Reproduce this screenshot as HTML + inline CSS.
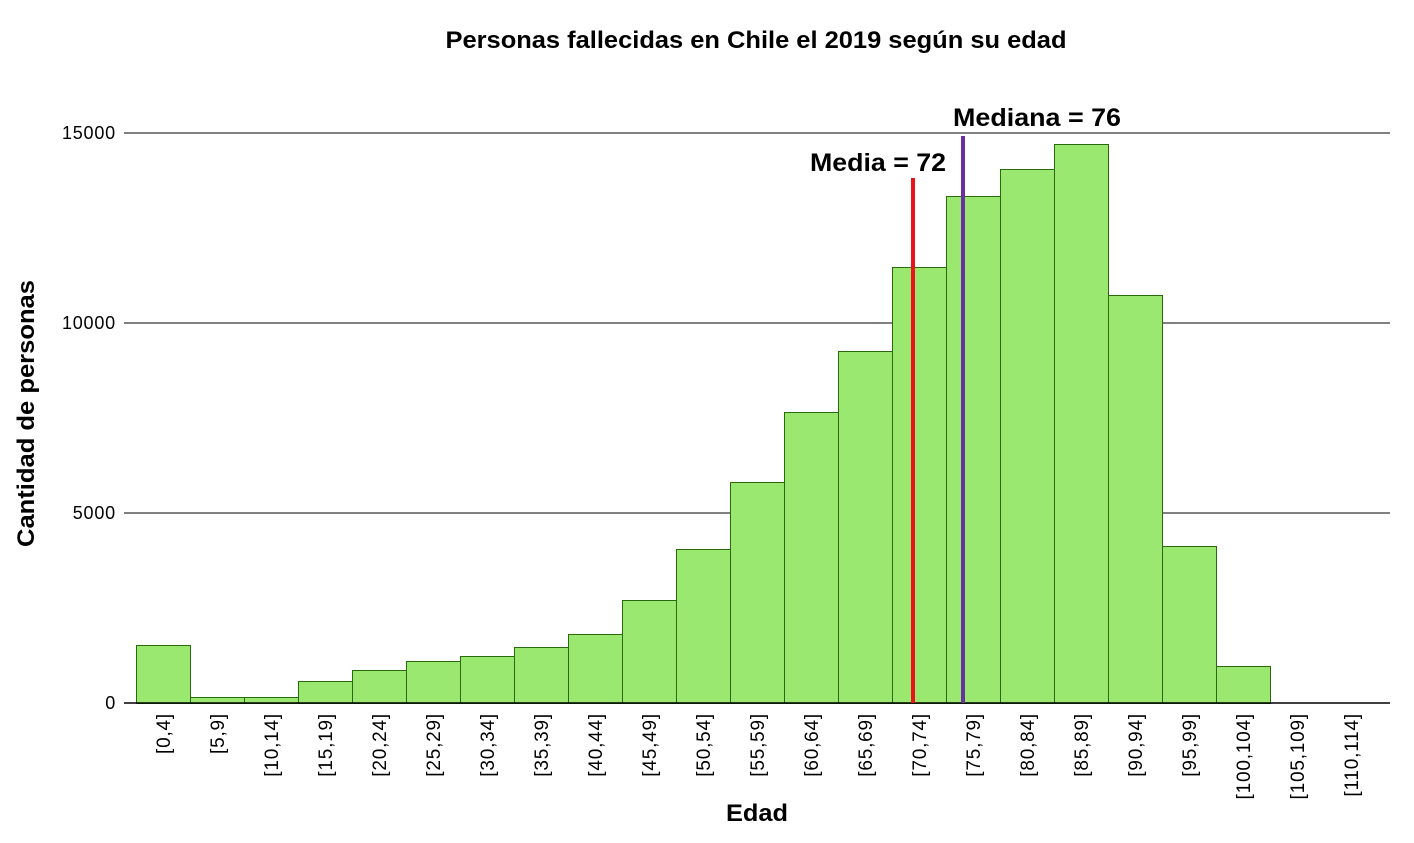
<!DOCTYPE html><html><head><meta charset="utf-8"><style>body{margin:0;background:#fff}svg{display:block}text{font-family:"Liberation Sans","DejaVu Sans",sans-serif;fill:#000}</style></head><body>
<svg width="1414" height="843" viewBox="0 0 1414 843">
<text x="756" y="48" font-size="24" font-weight="bold" text-anchor="middle" textLength="621" lengthAdjust="spacingAndGlyphs">Personas fallecidas en Chile el 2019 según su edad</text>
<g stroke="#000" stroke-width="1"><line x1="124" y1="133" x2="1390" y2="133"/><line x1="124" y1="323" x2="1390" y2="323"/><line x1="124" y1="513" x2="1390" y2="513"/></g>
<g font-size="18" text-anchor="end" letter-spacing="0.8"><text x="116" y="139">15000</text><text x="116" y="329">10000</text><text x="116" y="519">5000</text><text x="116" y="709">0</text></g>
<g fill="#9be870" stroke="#2b6a0c" stroke-width="1" id="bars"></g>
<line x1="124" y1="703" x2="1390" y2="703" stroke="#000" stroke-width="1.5"/>
<g id="labels" font-size="19" letter-spacing="0.8"></g>
<line x1="913" y1="178" x2="913" y2="703" stroke="#e8141a" stroke-width="4"/>
<line x1="963" y1="136" x2="963" y2="703" stroke="#6a2fa0" stroke-width="4"/>
<text x="810" y="171" font-size="25" font-weight="bold" textLength="136" lengthAdjust="spacingAndGlyphs">Media = 72</text>
<text x="953" y="126" font-size="25" font-weight="bold" textLength="168" lengthAdjust="spacingAndGlyphs">Mediana = 76</text>
<text x="726" y="821" font-size="24" font-weight="bold" textLength="62" lengthAdjust="spacingAndGlyphs">Edad</text>
<text transform="translate(34,547) rotate(-90)" font-size="24" font-weight="bold" textLength="267" lengthAdjust="spacingAndGlyphs">Cantidad de personas</text>
</svg>
<script>
var tops=[645,697,697,681,670,661,656,647,634,600,549,482,412,351,267,196,169,144,295,546,666,703,703];
var b=document.getElementById('bars'),l=document.getElementById('labels'),ns='http://www.w3.org/2000/svg';
tops.forEach(function(t,i){var x=136+i*54;if(t<703){var r=document.createElementNS(ns,'rect');r.setAttribute('x',x+0.5);r.setAttribute('y',t+0.5);r.setAttribute('width',54);r.setAttribute('height',703-t);b.appendChild(r);}
var tx=document.createElementNS(ns,'text');var cx=x+27+7;tx.setAttribute('transform','translate('+cx+',713) rotate(-90)');tx.setAttribute('text-anchor','end');tx.textContent='['+(i*5)+','+(i*5+4)+']';l.appendChild(tx);});
</script>
</body></html>
